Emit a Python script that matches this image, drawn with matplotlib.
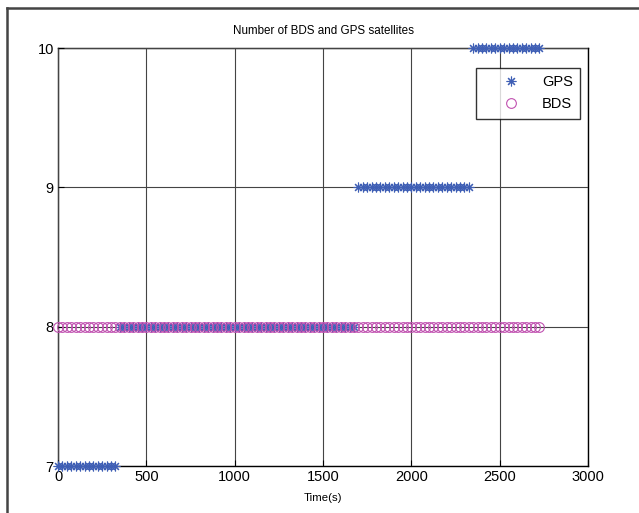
import numpy as np
import matplotlib
matplotlib.use('Agg')
import matplotlib.pyplot as plt
from matplotlib.lines import Line2D

# epochs (s) and satellite counts
t_step = 25
t_end = 2725
gps_change = [330, 1700, 2350]     # times where the GPS count steps up
gps_counts = [7, 8, 9, 10]
bds_count = 8

epochs = np.arange(0, t_end + 1, t_step)
gps = np.array(gps_counts)[np.searchsorted(gps_change, epochs, side='right')]
bds = np.full(len(epochs), bds_count)

plt.rcParams['font.family'] = ['Liberation Sans', 'DejaVu Sans']

fig = plt.figure(figsize=(6.39, 5.13), dpi=100)
ax = fig.add_axes([0.0908, 0.0916, 0.8294, 0.8148])

ax.plot(epochs, gps, linestyle='none', marker=(8, 2, 0), markersize=7,
        color='#3f5fb5', markeredgewidth=0.8, label='GPS', clip_on=False)
ax.plot(epochs, bds, linestyle='none', marker='o', markersize=7,
        markerfacecolor='none', markeredgecolor='#c050b0',
        markeredgewidth=0.8, label='BDS', clip_on=False)

ax.set_xlim(0, 3000)
ax.set_ylim(7, 10)
ax.set_xticks(np.arange(0, 3001, 500))
ax.set_yticks([7, 8, 9, 10])
ax.grid(True, color='#444444', linewidth=0.8, linestyle='-')
ax.set_axisbelow(True)
ax.tick_params(direction='in', labelsize=10.5, length=4, pad=3)
for s in ax.spines.values():
    s.set_linewidth(1.0)
    s.set_zorder(0.5)

ax.set_title('Number of BDS and GPS satellites', fontsize=8.4, pad=10)
ax.set_xlabel('Time(s)', fontsize=8.2, labelpad=-1)
ax.xaxis.set_label_coords(0.5, -0.065)

leg = ax.legend(loc='upper right', bbox_to_anchor=(0.985, 0.952), fontsize=10.5,
                frameon=True, fancybox=False, edgecolor='black',
                borderaxespad=0, borderpad=0.5, handletextpad=0.3,
                handlelength=3.7, labelspacing=0.55)
leg.get_frame().set_linewidth(1.0)

# frame around the figure (left and top edges only visible)
fig.add_artist(Line2D([0.011, 0.011], [0.0, 0.985], transform=fig.transFigure,
                      color='#444444', linewidth=1.8))
fig.add_artist(Line2D([0.011, 1.0], [0.985, 0.985], transform=fig.transFigure,
                      color='#444444', linewidth=1.8))

fig.savefig('out.png', dpi=100)
